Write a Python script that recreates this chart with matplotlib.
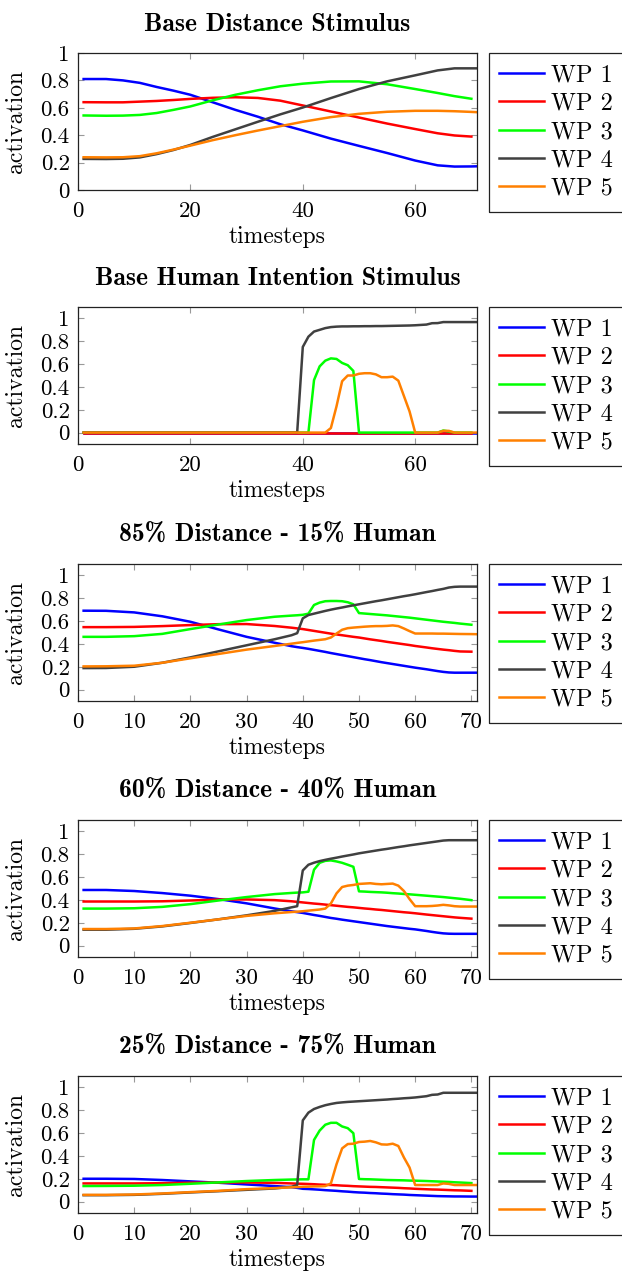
import numpy as np
import matplotlib.pyplot as plt
from matplotlib.patches import Rectangle
from matplotlib.ticker import FuncFormatter

nan = np.nan

# --- panel 1: base distance stimulus ---
t_dist = [1, 5, 8, 11, 14, 17, 20, 24, 28, 32, 36, 40, 45, 50, 55, 60, 64, 67, 70, 71]
dist_wp1 = [.810, .810, .800, .782, .752, .725, .695, .640, .585, .535, .480, .435, .375, .322, .270, .215, .180, .171, .172, .173]
dist_wp2 = [.641, .640, .640, .645, .650, .657, .665, .673, .677, .672, .652, .617, .573, .529, .485, .445, .414, .398, .390, nan]
dist_wp3 = [.544, .542, .543, .548, .562, .585, .610, .655, .695, .728, .757, .776, .792, .793, .772, .737, .708, .685, .666, nan]
dist_wp4 = [.227, .226, .228, .238, .262, .292, .329, .388, .443, .498, .552, .602, .671, .737, .793, .837, .873, .888, .888, .888]
dist_wp5 = [.239, .238, .239, .247, .268, .295, .324, .364, .400, .434, .466, .498, .532, .556, .571, .578, .578, .575, .570, .568]

# timesteps shared by panels 2-5
t = [1, 5, 10, 15, 20, 25, 30, 35, 38, 39,
     40, 41, 42, 43, 44, 45, 46, 47, 48, 49,
     50, 51, 52, 53, 54, 55, 56, 57, 58, 59,
     60, 62, 63, 64, 65, 66, 67, 68, 70, 71]

# --- panel 2: base human intention stimulus ---
hum_wp1 = [0, 0, 0, 0, 0, 0, 0, 0, 0, 0,
           0, 0, 0, 0, 0, 0, 0, 0, 0, 0,
           0, 0, 0, 0, 0, 0, 0, 0, 0, 0,
           0, 0, 0, 0, 0, 0, 0, 0, 0, 0]
hum_wp2 = [0, 0, 0, 0, 0, 0, 0, 0, 0, 0,
           0, 0, 0, 0, 0, 0, 0, 0, 0, 0,
           0, 0, 0, 0, 0, 0, 0, 0, 0, 0,
           0, 0, 0, 0, 0, 0, 0, 0, 0, nan]
hum_wp3 = [0, 0, 0, 0, 0, 0, 0, 0, 0, 0,
           0, 0, .46, .58, .63, .65, .645, .61, .59, .54,
           0, 0, 0, 0, 0, 0, 0, 0, 0, 0,
           0, 0, 0, 0, .018, .01, 0, 0, 0, nan]
hum_wp4 = [0, 0, 0, 0, 0, 0, 0, 0, 0, 0,
           .75, .84, .885, .90, .915, .924, .928, .93, .93, .931,
           .931, .932, .932, .933, .933, .934, .935, .936, .937, .938,
           .94, .946, .958, .959, .968, .968, .968, .968, .968, .968]
hum_wp5 = [0, 0, 0, 0, 0, 0, 0, 0, 0, 0,
           0, 0, 0, 0, 0, .04, .23, .45, .50, .50,
           .515, .52, .52, .51, .485, .485, .49, .455, .32, .185,
           0, 0, 0, 0, .015, .015, 0, 0, 0, 0]

# --- panel 3: 85% distance - 15% human ---
m85_wp1 = [.691, .690, .676, .642, .594, .527, .462, .410, .380, .372,
           .365, .357, .348, .339, .330, .320, .311, .302, .293, .284,
           .275, .266, .258, .249, .240, .232, .224, .216, .208, .200,
           .192, .178, .170, .162, .155, .150, .148, .148, .148, .148]
m85_wp2 = [.547, .547, .549, .556, .565, .573, .574, .557, .542, .536,
           .530, .522, .514, .506, .498, .490, .483, .476, .469, .462,
           .456, .448, .440, .433, .426, .418, .411, .404, .397, .390,
           .382, .369, .362, .356, .350, .345, .339, .334, .332, nan]
m85_wp3 = [.462, .462, .468, .488, .530, .570, .609, .638, .648, .651,
           .655, .665, .741, .762, .774, .776, .776, .774, .765, .747,
           .670, .666, .662, .658, .654, .650, .645, .640, .635, .630,
           .624, .612, .606, .600, .594, .589, .584, .578, .568, nan]
m85_wp4 = [.188, .189, .200, .235, .282, .335, .388, .441, .476, .494,
           .624, .653, .665, .677, .689, .700, .710, .719, .729, .738,
           .747, .756, .765, .774, .782, .791, .800, .809, .818, .826,
           .835, .854, .863, .873, .882, .894, .900, .902, .902, .902]
m85_wp5 = [.203, .204, .209, .235, .274, .312, .350, .382, .402, .409,
           .415, .422, .429, .435, .441, .456, .491, .524, .538, .543,
           .547, .551, .554, .556, .556, .558, .562, .556, .535, .512,
           .491, .491, .491, .490, .490, .489, .488, .487, .486, .485]

# --- panel 4: 60% distance - 40% human ---
m60_wp1 = [.487, .487, .478, .460, .437, .407, .370, .325, .300, .293,
           .286, .277, .268, .260, .251, .242, .235, .227, .220, .213,
           .206, .199, .192, .185, .178, .171, .165, .159, .153, .147,
           .142, .128, .120, .113, .107, .104, .103, .103, .103, .103]
m60_wp2 = [.386, .386, .386, .388, .395, .403, .404, .398, .388, .383,
           .378, .373, .368, .364, .359, .354, .349, .344, .339, .335,
           .330, .325, .321, .316, .312, .307, .302, .297, .292, .288,
           .283, .272, .267, .262, .257, .252, .247, .243, .236, nan]
m60_wp3 = [.324, .324, .327, .339, .363, .395, .425, .451, .461, .464,
           .466, .472, .665, .725, .742, .746, .737, .725, .708, .690,
           .475, .473, .470, .468, .466, .463, .459, .456, .452, .449,
           .445, .437, .433, .429, .425, .420, .415, .410, .398, nan]
m60_wp4 = [.139, .139, .147, .168, .198, .230, .265, .304, .335, .345,
           .658, .708, .726, .740, .751, .761, .770, .780, .789, .798,
           .808, .816, .824, .832, .840, .847, .855, .863, .870, .878,
           .885, .899, .906, .913, .920, .923, .923, .923, .923, .923]
m60_wp5 = [.145, .145, .150, .171, .200, .230, .260, .283, .294, .297,
           .301, .306, .311, .316, .324, .369, .457, .513, .525, .531,
           .540, .543, .546, .540, .537, .540, .543, .525, .478, .407,
           .345, .345, .347, .351, .357, .352, .345, .342, .342, .342]

# --- panel 5: 25% distance - 75% human ---
m25_wp1 = [.200, .200, .198, .189, .177, .165, .150, .136, .126, .120,
           .112, .110, .107, .104, .100, .097, .094, .090, .087, .083,
           .080, .078, .075, .073, .070, .068, .065, .063, .061, .058,
           .056, .052, .050, .048, .047, .046, .045, .045, .044, .044]
m25_wp2 = [.159, .159, .159, .161, .165, .167, .168, .164, .159, .157,
           .156, .154, .152, .149, .147, .145, .143, .140, .138, .135,
           .133, .131, .129, .128, .126, .124, .122, .120, .117, .115,
           .112, .108, .106, .105, .103, .101, .099, .098, .094, nan]
m25_wp3 = [.136, .137, .139, .145, .156, .168, .180, .189, .193, .194,
           .195, .195, .540, .622, .673, .690, .690, .658, .643, .599,
           .198, .196, .195, .193, .191, .189, .188, .187, .186, .184,
           .183, .180, .178, .176, .174, .172, .169, .167, .162, nan]
m25_wp4 = [.056, .056, .059, .068, .080, .091, .103, .115, .130, .145,
           .711, .779, .811, .829, .844, .855, .864, .869, .873, .876,
           .879, .882, .885, .888, .891, .894, .898, .901, .905, .908,
           .912, .923, .935, .938, .953, .953, .953, .953, .953, .953]
m25_wp5 = [.059, .059, .062, .071, .083, .094, .109, .118, .125, .127,
           .130, .131, .133, .134, .136, .159, .327, .466, .504, .507,
           .522, .525, .531, .519, .501, .499, .507, .487, .386, .298,
           .145, .145, .145, .145, .159, .155, .145, .145, .145, .145]

labels = ['WP 1', 'WP 2', 'WP 3', 'WP 4', 'WP 5']
colors = ['#0000ff', '#ff0000', '#00ff00', '#404040', '#ff8000']

panels = [
    ('Base Distance Stimulus', t_dist, [dist_wp1, dist_wp2, dist_wp3, dist_wp4, dist_wp5], (0, 1), [0, 20, 40, 60]),
    ('Base Human Intention Stimulus', t, [hum_wp1, hum_wp2, hum_wp3, hum_wp4, hum_wp5], (-0.1, 1.1), [0, 20, 40, 60]),
    ('85% Distance - 15% Human', t, [m85_wp1, m85_wp2, m85_wp3, m85_wp4, m85_wp5], (-0.1, 1.1), list(range(0, 71, 10))),
    ('60% Distance - 40% Human', t, [m60_wp1, m60_wp2, m60_wp3, m60_wp4, m60_wp5], (-0.1, 1.1), list(range(0, 71, 10))),
    ('25% Distance - 75% Human', t, [m25_wp1, m25_wp2, m25_wp3, m25_wp4, m25_wp5], (-0.1, 1.1), list(range(0, 71, 10))),
]

plt.rcParams['font.family'] = 'cmr10'
plt.rcParams['axes.unicode_minus'] = False

W, H = 622, 1271
fig = plt.figure(figsize=(W / 100, H / 100), dpi=100)

# pixel tops of the five axes boxes
tops = [53, 307, 564, 820, 1076]
ax_left, ax_w, ax_h = 78, 399, 137
fmt = FuncFormatter(lambda v, p: f'{v:g}')

for (title, x, series, ylim, xticks), top in zip(panels, tops):
    ax = fig.add_axes([ax_left / W, 1 - (top + ax_h) / H, ax_w / W, ax_h / H])
    for y, c, lab in zip(series, colors, labels):
        ax.plot(x, y, color=c, lw=1.8, label=lab)
    ax.set_xlim(0, 71)
    ax.set_ylim(*ylim)
    ax.set_xticks(xticks)
    ax.set_yticks([0, 0.2, 0.4, 0.6, 0.8, 1])
    ax.xaxis.set_major_formatter(fmt)
    ax.yaxis.set_major_formatter(fmt)
    ax.tick_params(direction='in', top=True, right=True, length=4, width=0.8,
                   color='#999999', labelsize=16.5)
    ax.tick_params(axis='x', pad=8)
    ax.tick_params(axis='y', pad=6)
    for s in ax.spines.values():
        s.set_color('#222222')
        s.set_linewidth(0.9)
    ax.set_title(title, fontfamily='cmb10', fontsize=18.5, pad=16)
    ax.set_xlabel('timesteps', fontsize=17, labelpad=3.5)
    ax.set_ylabel('activation', fontsize=17, labelpad=10)

    # legend frame runs past the right edge of the figure
    fig.add_artist(Rectangle((489 / W, 1 - (top + 159) / H), 200 / W, 159 / H,
                             transform=fig.transFigure, fill=False, ec='#222222', lw=0.9))
    ax.legend(loc='center left', bbox_to_anchor=(499 / W, 1 - (top + 79) / H),
              bbox_transform=fig.transFigure, frameon=False, borderpad=0, borderaxespad=0,
              handlelength=1.85, handletextpad=0.28, labelspacing=0.26, fontsize=17.5)

fig.savefig('out.png', dpi=100)
